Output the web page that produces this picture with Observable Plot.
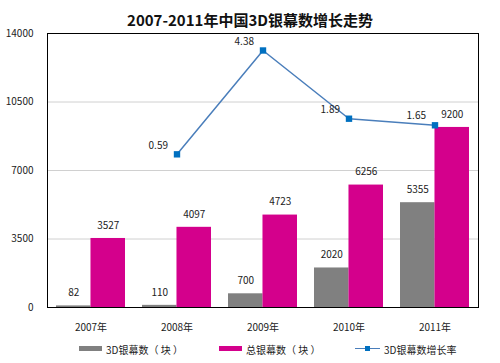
<!DOCTYPE html>
<html>
<head>
<meta charset="utf-8">
<script src="https://cdn.jsdelivr.net/npm/d3@7"></script>
<script src="https://cdn.jsdelivr.net/npm/@observablehq/plot@0.6"></script>
<style>
  html, body { margin: 0; padding: 0; background: #fff; }
  #wrap { position: relative; width: 500px; height: 363px; font-family: "Noto Sans CJK SC", sans-serif; color: #222; }
  #title { position: absolute; left: 0; top: 9px; width: 500px; text-align: center; font-size: 15px; font-weight: bold; line-height: 22px; color: #111; }
  #chart { position: absolute; left: 0; top: 30px; }
  .lg { position: absolute; top: 343px; font-size: 10px; line-height: 14px; color: #222; white-space: pre; }
  .sw { position: absolute; top: 346px; height: 5px; }
</style>
</head>
<body>
<div id="wrap">
  <div id="title">2007-2011年中国3D银幕数增长走势</div>
  <div id="chart"></div>
  <div class="sw" style="left:79px;width:23px;background:#808080"></div>
  <div class="lg" style="left:106px">3D银幕数（ 块 ）</div>
  <div class="sw" style="left:219px;width:23px;background:#d4008c"></div>
  <div class="lg" style="left:246px">总银幕数（ 块 ）</div>
  <div style="position:absolute;left:355px;top:348px;width:25px;height:1px;background:#4a7ebb"></div>
  <div style="position:absolute;left:365px;top:346px;width:5px;height:5px;background:#0070c0"></div>
  <div class="lg" style="left:384px">3D银幕数增长率</div>
</div>
<script>
// ---- data ----
const years = ["2007年", "2008年", "2009年", "2010年", "2011年"];
const screens3D = [82, 110, 700, 2020, 5355];
const screensTotal = [3527, 4097, 4723, 6256, 9200];
const growthYears = ["2008年", "2009年", "2010年", "2011年"];
const growthRate = [0.59, 4.38, 1.89, 1.65];
const yTicks = [0, 3500, 7000, 10500, 14000];
const growthAxis = [-5, 5]; // hidden secondary axis range for the growth line

// ---- tables ----
const bars = years.map((y, i) => ({year: y, v3d: screens3D[i], total: screensTotal[i]}));
const growth = growthYears.map((y, i) => ({year: y, rate: growthRate[i]}));

// secondary axis mapped onto primary y domain
const yMax = yTicks[yTicks.length - 1];
const toPrimary = r => (r - growthAxis[0]) / (growthAxis[1] - growthAxis[0]) * yMax;

const W = 500, H = 307, mL = 47, mR = 22, mT = 3, mB = 30;
const step = (W - mL - mR) / (years.length - 0.2 + 0.2);
const half = step * 0.8 / 2;

const chart = Plot.plot({
  width: W,
  height: H,
  marginLeft: mL,
  marginRight: mR,
  marginTop: mT,
  marginBottom: mB,
  style: {fontFamily: "'Noto Sans CJK SC', sans-serif", fontSize: "10px", color: "#222", background: "#fff", overflow: "visible"},
  x: {domain: years, paddingInner: 0.2, paddingOuter: 0.1, tickSize: 0, tickPadding: 16, label: null},
  y: {domain: [0, yMax], ticks: yTicks, tickSize: 0, tickPadding: 14, label: null, tickFormat: d => String(d)},
  marks: [
    Plot.ruleY(yTicks.slice(1, -1), {stroke: "#d0d0d0", strokeWidth: 1}),
    Plot.barY(bars, {x: "year", y: "v3d", fill: "#808080", insetRight: half}),
    Plot.barY(bars, {x: "year", y: "total", fill: "#d4008c", insetLeft: half}),
    Plot.text(bars, {x: "year", y: "v3d", text: d => String(d.v3d), dx: -half / 2, dy: -13, fill: "#222"}),
    Plot.text(bars, {x: "year", y: "total", text: d => String(d.total), dx: half / 2, dy: -13, fill: "#222"}),
    Plot.frame({stroke: "#000", strokeWidth: 1}),
    Plot.line(growth, {x: "year", y: d => toPrimary(d.rate), stroke: "#4a7ebb", strokeWidth: 1.5}),
    Plot.dot(growth, {x: "year", y: d => toPrimary(d.rate), symbol: "square", r: 3.6, fill: "#0070c0", stroke: "none"}),
    Plot.text(growth, {x: "year", y: d => toPrimary(d.rate), text: d => d.rate.toFixed(2), textAnchor: "end", dx: -9, dy: -9, fill: "#222"})
  ]
});
document.getElementById("chart").appendChild(chart);
</script>
</body>
</html>
